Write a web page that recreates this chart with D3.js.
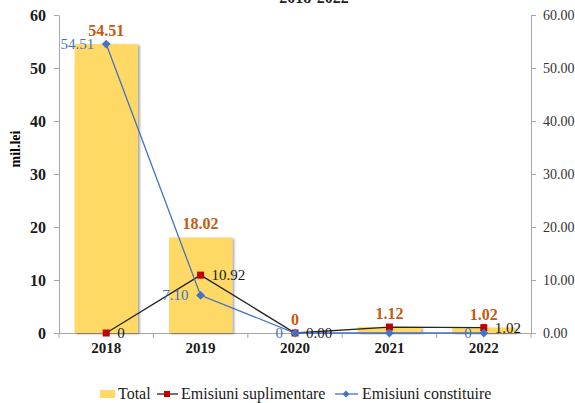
<!DOCTYPE html>
<html>
<head>
<meta charset="utf-8">
<script src="https://cdn.jsdelivr.net/npm/d3@7"></script>
<style>
  body { margin: 0; background: #fff; }
  svg, svg text { font-family: "Liberation Serif", "DejaVu Serif", serif !important; }
  .ejes path, .ejes line { stroke: #a6a6a6; }
</style>
</head>
<body>
<div id="graf"></div>
<script>
// Data
const years = ["2018", "2019", "2020", "2021", "2022"]
const total = [54.51, 18.02, 0, 1.12, 1.02]
const suplimentare = [0, 10.92, 0, 1.12, 1.02]
const constituire = [54.51, 7.10, 0, 0, 0]
const totalLabels = ["54.51", "18.02", "0", "1.12", "1.02"]
const suplLabels = ["0", "10.92", "0.00", "", "1.02"]
const constLabels = ["54.51", "7.10", "0", "", "0"]
const leftTicks = [0, 10, 20, 30, 40, 50, 60]

const fuente = "Liberation Serif, DejaVu Serif, serif"
const anchoTotal = 575
const altoTotal = 403
const margins = { left: 59, top: 15, right: 44, bottom: 70 }
const ancho = anchoTotal - margins.left - margins.right
const alto = altoTotal - margins.top - margins.bottom

const svg = d3.select("#graf")
  .append("svg")
  .attr("width", anchoTotal)
  .attr("height", altoTotal)
  .attr("font-family", fuente)

const defs = svg.append("defs")
const sombra = defs.append("filter").attr("id", "sombra")
  .attr("x", "-10%").attr("y", "-10%").attr("width", "130%").attr("height", "130%")
sombra.append("feDropShadow")
  .attr("dx", 2).attr("dy", 1).attr("stdDeviation", 1.2)
  .attr("flood-color", "#000").attr("flood-opacity", 0.35)

// title (mostly cut off at the top, as in the original)
svg.append("text")
  .attr("x", 314).attr("y", 3)
  .attr("text-anchor", "middle")
  .attr("font-size", 16).attr("font-weight", "bold")
  .attr("fill", "#222")
  .text("2018-2022")

const g = svg.append("g")
  .attr("transform", `translate(${margins.left}, ${margins.top})`)

// Escaladores
const x = d3.scaleBand().domain(years).range([0, ancho]).padding(0)
const y = d3.scaleLinear().domain([0, 60]).range([alto, 0])

// Ejes
const xAxisGroup = g.append("g")
  .attr("class", "ejes")
  .attr("transform", `translate(0, ${alto})`)
  .call(d3.axisBottom(x).tickSize(0).tickPadding(9))
xAxisGroup.attr("font-family", fuente)
xAxisGroup.selectAll("text")
  .attr("font-size", 15).attr("font-weight", "bold").attr("fill", "#1a1a1a")
// ticks between categories
xAxisGroup.selectAll(".sep")
  .data(d3.range(years.length + 1))
  .join("line")
  .attr("class", "sep")
  .attr("x1", (d) => d * x.step()).attr("x2", (d) => d * x.step())
  .attr("y1", 0).attr("y2", 5)
  .attr("stroke", "#a6a6a6")

const yAxisGroup = g.append("g")
  .attr("class", "ejes")
  .call(d3.axisLeft(y).tickValues(leftTicks).tickSize(5).tickSizeOuter(0).tickPadding(8))
yAxisGroup.attr("font-family", fuente)
yAxisGroup.selectAll("text")
  .attr("font-size", 16).attr("font-weight", "bold").attr("fill", "#1a1a1a")

const yAxisGroup2 = g.append("g")
  .attr("class", "ejes")
  .attr("transform", `translate(${ancho}, 0)`)
  .call(d3.axisRight(y).tickValues(leftTicks).tickSize(5).tickSizeOuter(0).tickPadding(7)
    .tickFormat(d3.format(".2f")))
yAxisGroup2.attr("font-family", fuente)
yAxisGroup2.selectAll("text")
  .attr("font-size", 14).attr("fill", "#333")

svg.append("text")
  .attr("transform", "translate(20, 149) rotate(-90)")
  .attr("text-anchor", "middle")
  .attr("font-size", 14).attr("font-weight", "bold")
  .text("mil.lei")

// Bars
const barW = x.bandwidth() * 0.67
const rows = years.map((yr, i) => ({
  yr, total: total[i], supl: suplimentare[i], cons: constituire[i],
  tl: totalLabels[i], sl: suplLabels[i], cl: constLabels[i]
}))
const cx = (d) => x(d.yr) + x.bandwidth() / 2

g.selectAll(".bar")
  .data(rows)
  .join("rect")
  .attr("class", "bar")
  .attr("x", (d) => cx(d) - barW / 2)
  .attr("y", (d) => y(d.total))
  .attr("width", barW)
  .attr("height", (d) => alto - y(d.total))
  .attr("fill", "#ffd966")
  .attr("filter", "url(#sombra)")

// lines
const lineSupl = d3.line().x(cx).y((d) => y(d.supl))
const lineCons = d3.line().x(cx).y((d) => y(d.cons))

g.append("path").datum(rows)
  .attr("d", lineSupl)
  .attr("fill", "none").attr("stroke", "#262626").attr("stroke-width", 1.3)

g.append("path").datum(rows)
  .attr("d", lineCons)
  .attr("fill", "none").attr("stroke", "#4472c4").attr("stroke-width", 1.3)

g.selectAll(".msq")
  .data(rows)
  .join("rect")
  .attr("class", "msq")
  .attr("x", (d) => cx(d) - 3.5)
  .attr("y", (d) => y(d.supl) - 3.5)
  .attr("width", 7).attr("height", 7)
  .attr("fill", "#c00000")

g.selectAll(".mdi")
  .data(rows)
  .join("path")
  .attr("class", "mdi")
  .attr("d", d3.symbol(d3.symbolDiamond2, 50))
  .attr("transform", (d) => `translate(${cx(d)}, ${y(d.cons)})`)
  .attr("fill", "#4472c4")

// labels
g.selectAll(".lt")
  .data(rows)
  .join("text")
  .attr("class", "lt")
  .attr("x", cx)
  .attr("y", (d) => y(d.total) - 8)
  .attr("text-anchor", "middle")
  .attr("font-size", 16).attr("font-weight", "bold")
  .attr("fill", "#c55a11")
  .text((d) => d.tl)

g.selectAll(".ls")
  .data(rows)
  .join("text")
  .attr("class", "ls")
  .attr("x", (d) => cx(d) + 11)
  .attr("y", (d) => y(d.supl) + 5)
  .attr("font-size", 15)
  .attr("fill", "#1a1a1a")
  .text((d) => d.sl)

g.selectAll(".lc")
  .data(rows)
  .join("text")
  .attr("class", "lc")
  .attr("x", (d) => cx(d) - 12)
  .attr("y", (d) => y(d.cons) + 5)
  .attr("text-anchor", "end")
  .attr("font-size", 15)
  .attr("fill", "#4472c4")
  .text((d) => d.cl)

// Legend
const leg = svg.append("g").attr("font-size", 16).attr("fill", "#1a1a1a")
leg.append("rect").attr("x", 100).attr("y", 390).attr("width", 15).attr("height", 8).attr("fill", "#ffd966")
leg.append("text").attr("x", 118).attr("y", 399).text("Total")
leg.append("line").attr("x1", 157).attr("x2", 178).attr("y1", 394).attr("y2", 394).attr("stroke", "#262626").attr("stroke-width", 1.3)
leg.append("rect").attr("x", 164).attr("y", 391).attr("width", 6).attr("height", 6).attr("fill", "#c00000")
leg.append("text").attr("x", 181).attr("y", 399).text("Emisiuni suplimentare")
leg.append("line").attr("x1", 335).attr("x2", 358).attr("y1", 394).attr("y2", 394).attr("stroke", "#4472c4").attr("stroke-width", 1.3)
leg.append("path").attr("d", d3.symbol(d3.symbolDiamond2, 30)).attr("transform", "translate(346, 394)").attr("fill", "#4472c4")
leg.append("text").attr("x", 362).attr("y", 399).text("Emisiuni constituire")
</script>
</body>
</html>
